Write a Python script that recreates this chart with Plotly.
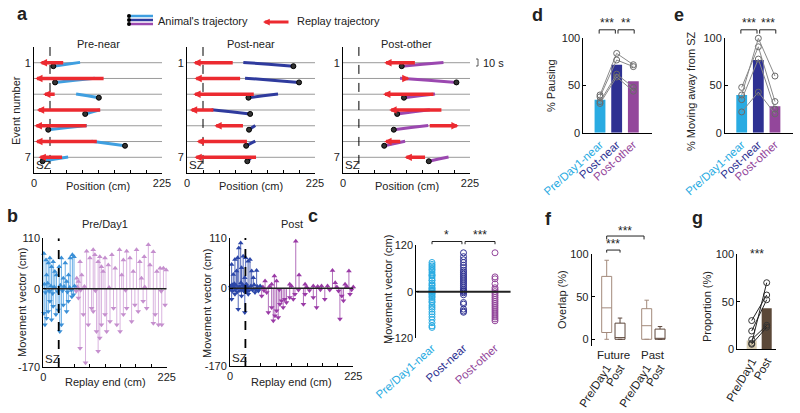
import plotly.graph_objects as go

W, H = 800, 413
FONT = "Liberation Sans, Arial, Helvetica, sans-serif"
FS = 11
FS_CAT = 11.5
RED = "#ec2a30"

# ---------------- DATA ----------------
events = [1, 2, 3, 4, 5, 6, 7]
sz_edge = 28.125
track_len = 225

# panel a (cm)
pre_near_replay_start = [54, 125, 39, 119, 95, 113, 52]
pre_near_replay_end = [10, 2, 16, 5, 1, 2, 8]
pre_near_traj_start = [81, 107, 74, 116, 93, 101, 60]
pre_near_traj_end = [34, 37, 114, 90, 25, 160, 15]

post_near_replay_start = [83, 96, 120, 49, 101, 108, 124]
post_near_replay_end = [11, 13, 11, 5, 48, 17, 13]
post_near_traj_start = [99, 102, 160, 43, 120, 120, 114]
post_near_traj_end = [187, 197, 108, 111, 109, 104, 106]

post_other_replay_start = [130, 102, 163, 177, 151, 104, 148]
post_other_replay_end = [73, 118, 71, 82, 205, 73, 109]
post_other_traj_start = [178, 101, 163, 154, 151, 110, 187]
post_other_traj_end = [104, 201, 108, 96, 90, 73, 152]
traj_time_offset = [0.22, 0.25, 0.22, 0.25, 0.25, 0.27, 0.25]

# panel b: replay end (cm) and movement vector (cm)
b_pre_near_x = [1, 5, 9, 12, 15, 18, 24, 29, 33, 40, 46, 49, 53, 56, 6, 21, 36.5, 42.5,
                1, 3, 6, 9, 12, 15, 18, 23, 27, 30, 33, 36.5, 42.5, 45.6, 52, 55,
                2, 4, 8, 11, 14, 17, 20, 26, 31, 35, 38, 44, 48, 51, 57]
b_pre_near_v = [77, 63, 56, 67, 48, 59, 30, 48, 67, 56, 30, 67, 74, 70, 30, 38, 23, 16,
                -53, -78, -64, -49, -27, -67, -38, -56, -46, -93, -78, -35, -49, -27, -17, -13,
                10, -8, 12, -5, 6, -10, 4, -6, 8, -4, 5, -7, 3, -3, 6]
b_pre_other_x = [61, 64, 67, 70, 79, 85, 91, 94, 100, 103, 106, 112.5, 118.5, 125, 131, 139,
                 146, 152, 158, 164, 170, 176, 184, 191.5, 194.5, 200.6, 207, 213, 219, 224,
                 109, 143, 179,
                 64, 67, 73, 77, 82, 88, 91, 97, 100, 103, 106, 112.5, 115.5, 121.6, 128, 134,
                 140, 146, 152, 161, 167, 173, 182, 188.5, 200.6, 204, 210, 216, 222,
                 60, 62, 68, 75, 95, 120, 150, 185, 215]
b_pre_other_v = [23, 16, 59, 30, 82, 67, 85, 74, 59, 70, 48, 67, 52, 74, 45, 85,
                 63, 82, 67, 38, 85, 59, 70, 96, 52, 81, 38, 45, 45, 41,
                 38, 30, 23,
                 -20, -129, -56, -161, -78, -42, -49, -93, -136, -107, -78, -56, -93, -71, -42, -78,
                 -93, -56, -42, -71, -35, -49, -27, -42, -75, -56, -78, -78, -35,
                 -5, 4, -3, 5, -4, 3, -3, 4, -5]
b_post_near_x = [19.5, 16, 14, 9, 24, 28.6, 33, 36.5, 3, 6, 12, 21, 39.5, 48.6, 42.6, 27,
                 27, 15, 3, 9, 21, 33.4, 45.6, 51.7,
                 1, 2, 4, 5, 7, 8, 10, 11, 13, 17, 18, 20, 22, 23, 25, 26, 29, 30, 31, 32,
                 35, 38, 41, 44, 47, 50, 53, 55]
b_post_near_v = [99, 88, 67, 63, 70, 67, 59, 63, 52, 30, 38, 45, 38, 39, 23, 23,
                 -53, -46, -24, -13, -17, -13, -9, -6,
                 5, -4, 8, -6, 3, 10, -3, 6, -8, 4, -5, 12, -3, 7, -6, 4, -4, 9, -7, 3,
                 -5, 5, -4, 8, -3, 4, -2, 5]
b_post_other_x = [57.8, 67, 70, 76, 79, 82, 85, 88, 91, 94, 97, 100, 103, 109, 115.5, 118.5,
                  134, 137, 152, 158, 173, 200.6, 204, 207, 219,
                  120, 81, 85, 64, 76, 126, 137, 152, 167, 187, 217, 192, 210, 225, 109,
                  60, 62, 72, 90, 112, 125, 140, 145, 160, 165, 178, 182, 195, 198, 213, 222]
b_post_other_v = [-17, -9, -53, -42, -71, -60, -49, -64, -35, -27, -42, -24, -31, -20, -24, -13,
                  -35, -13, -20, -42, -24, -67, -17, -27, -13,
                  103, 27, 16, 16, 9, 29, 9, 5, 5, 39, 38, 12, 9, 3, 9,
                  3, -5, 4, -3, 5, -4, 3, -5, 4, -3, 5, -4, 3, -6, 4, -3]

# panel c
c_categories = ["Pre/Day1-near", "Post-near", "Post-other"]
c_pre_near = [75, 70, 66, 62, 58, 55, 50, 45, 42, 40, 35, 30, 28, 22, 18, 15, 10, 8, 5, 2, 0,
              -3, -5, -8, -12, -15, -20, -25, -28, -35, -40, -45, -52, -58, -65, -72, -80, -88, -92]
c_post_near = [100, 90, 82, 75, 68, 62, 55, 50, 45, 40, 35, 30, 25, 20, 15, 10, 5, 2, 0,
               -3, -8, -28, -32, -45, -50, -53]
c_post_other = [100, 38, 33, 20, 10, 5, 0, -5, -10, -15, -20, -25, -30, -35, -40, -45,
                -50, -55, -60, -65, -70, -75]

# panel d (% pausing)
d_bar = [35, 72, 54.5]
d_pre_near = [40, 38, 33, 31]
d_post_near = [84, 77, 62, 59]
d_post_other = [72, 70, 48, 44]

# panel e (% moving away from SZ)
e_bar = [40, 77, 28]
e_pre_near = [48, 40, 35, 22]
e_post_near = [91, 100, 78, 43]
e_post_other = [33, 60, 25, 20]

# panel f (overlap %)
f_groups = ["Future", "Past"]
f_labels = ["Pre/Day1", "Post", "Pre/Day1", "Post"]
f_pos = [0, 1, 3, 4]
f_q1 = [8, 0, 0, 0]
f_median = [37, 2, 16, 0.5]
f_q3 = [74, 19, 36, 12]
f_low = [0, 0, 0, 0]
f_high = [93, 25, 46, 15]

# panel g (proportion %)
g_categories = ["Pre/Day1", "Post"]
g_bar = [9, 43]
g_pre = [30, 19, 10, 6, 5]
g_post = [57, 52, 25, 70, 23]

# ---------------- COLOURS ----------------
C_LB = "#29abe2"
C_DB = "#2e3192"
C_PU = "#93479b"
A_COLS = ["#3f9fe0", "#2f3b9e", "#9b48b0"]

fig = go.Figure()
layout = dict(width=W, height=H, margin=dict(l=0, r=0, t=0, b=0, pad=0, autoexpand=False),
              paper_bgcolor="white", plot_bgcolor="white", showlegend=False, hovermode=False,
              font=dict(family=FONT, size=FS, color="#222"))
shapes, annotations = [], []


def xdom(pa, va, pb, vb, lo, hi):
    k = (pb - pa) / (vb - va)
    p1, p2 = pa + (lo - va) * k, pa + (hi - va) * k
    return [min(p1, p2) / W, max(p1, p2) / W]


def ydom(pa, va, pb, vb, lo, hi):
    k = (pb - pa) / (vb - va)
    p1, p2 = pa + (lo - va) * k, pa + (hi - va) * k
    return [1 - max(p1, p2) / H, 1 - min(p1, p2) / H]


def axis(**kw):
    d = dict(showgrid=False, zeroline=False, linecolor="black", linewidth=1, automargin=False,
             tickfont=dict(size=FS, color="#222", family=FONT), ticks="", ticklen=3,
             tickcolor="black", fixedrange=True, showline=True)
    d.update(kw)
    return d


def txt(text, x, y, size=FS, angle=0, xanchor="center", yanchor="middle", color="#222", bold=False):
    if bold:
        text = "<b>" + text + "</b>"
    annotations.append(dict(text=text, x=x / W, y=1 - y / H, xref="paper", yref="paper",
                            showarrow=False, textangle=angle, xanchor=xanchor, yanchor=yanchor,
                            font=dict(size=size, color=color, family=FONT)))


def axname(i):
    return ("x", "y") if i == 1 else (f"x{i}", f"y{i}")


# ---------------- PANEL a ----------------
a_sets = [
    (pre_near_replay_start, pre_near_replay_end, pre_near_traj_start, pre_near_traj_end, "Pre-near", 34, 162),
    (post_near_replay_start, post_near_replay_end, post_near_traj_start, post_near_traj_end, "Post-near", 187, 315),
    (post_other_replay_start, post_other_replay_end, post_other_traj_start, post_other_traj_end, "Post-other", 343, 470),
]
a_ticks = [track_len * i / 8 for i in range(9)]
a_ticktext = ["0"] + [""] * 7 + ["225"]
for i, (rs, re_, ts, te, title, px0, px1) in enumerate(a_sets, start=1):
    xa, ya = axname(i)
    col = A_COLS[i - 1]
    lx, ly = [], []
    for r in events:
        lx += [0, track_len, None]
        ly += [r, r, None]
    fig.add_trace(go.Scatter(x=lx, y=ly, mode="lines", line=dict(color="#9a9a9a", width=1),
                             xaxis=xa, yaxis=ya, hoverinfo="skip"))
    fig.add_trace(go.Scatter(x=[sz_edge, sz_edge], y=[0, 8], mode="lines",
                             line=dict(color="black", width=1, dash="dash"), xaxis=xa, yaxis=ya))
    tx, ty = [], []
    for r, s, e, dt in zip(events, ts, te, traj_time_offset):
        tx += [s, (s + e) / 2, e, None]
        ty += [r - 0.02, r + dt * 0.45, r + dt, None]
    fig.add_trace(go.Scatter(x=tx, y=ty, mode="lines", line=dict(color=col, width=3, shape="spline"),
                             xaxis=xa, yaxis=ya))
    fig.add_trace(go.Scatter(x=te, y=[r + dt for r, dt in zip(events, traj_time_offset)], mode="markers",
                             marker=dict(size=5, color="#333", line=dict(color="black", width=1)),
                             xaxis=xa, yaxis=ya, cliponaxis=False))
    for r, s, e in zip(events, rs, re_):
        annotations.append(dict(x=e, y=r, ax=s, ay=r, xref=xa, yref=ya, axref=xa, ayref=ya,
                                showarrow=True, arrowhead=2, arrowsize=0.42, arrowwidth=3.5,
                                arrowcolor=RED, text=""))
    layout["xaxis" if i == 1 else f"xaxis{i}"] = axis(
        domain=xdom(px0, 0, px1, 225, 0, 225), range=[0, 225], anchor=ya,
        ticks="inside", tickvals=a_ticks, ticktext=a_ticktext)
    layout["yaxis" if i == 1 else f"yaxis{i}"] = axis(
        domain=ydom(62.7, 1, 157.3, 7, 0, 8), range=[8, 0], anchor=xa,
        tickvals=[1, 7], ticktext=["1", "7"])
    annotations.append(dict(text="SZ", x=0, y=0, xref=f"{xa} domain", yref=f"{ya} domain",
                            xanchor="left", yanchor="bottom", showarrow=False, xshift=0,
                            font=dict(size=FS + 0.5, color="#222", family=FONT)))
    txt(title, (px0 + px1) / 2, 44)
    txt("Position (cm)", (px0 + px1) / 2, 186)
txt("Event number", 16, 111, angle=-90)

# legend of panel a
for k, (c, yy) in enumerate(zip(A_COLS, [16, 20, 24])):
    shapes.append(dict(type="line", xref="paper", yref="paper", x0=129 / W, x1=153 / W,
                       y0=1 - yy / H, y1=1 - yy / H, line=dict(color=c, width=2.5)))
    shapes.append(dict(type="circle", xref="paper", yref="paper", x0=127 / W, x1=131 / W,
                       y0=1 - (yy + 2) / H, y1=1 - (yy - 2) / H, fillcolor="black", line=dict(width=0)))
txt("Animal's trajectory", 156, 21, xanchor="left")
annotations.append(dict(x=263 / W, y=1 - 22 / H, xref="paper", yref="paper", ax=27, ay=0,
                        showarrow=True, arrowhead=2, arrowsize=0.45, arrowwidth=3, arrowcolor=RED, text=""))
txt("Replay trajectory", 295, 21, xanchor="left")
# 10 s scale bar
for seg in [(476, 59, 478, 59), (478, 59, 478, 66), (476, 66, 478, 66)]:
    shapes.append(dict(type="line", xref="paper", yref="paper", x0=seg[0] / W, x1=seg[2] / W,
                       y0=1 - seg[1] / H, y1=1 - seg[3] / H, line=dict(color="#333", width=0.8)))
txt("10 s", 481, 63, xanchor="left")

# ---------------- PANEL b ----------------
b_sets = [
    (4, b_pre_near_x, b_pre_near_v, b_pre_other_x, b_pre_other_v,
     ("#3a8fd6", "#6aaee6"), ("#c58fce", "#d9b3df"), (43.3, 166.7), (238.3, 367), "Pre/Day1", 22),
    (5, b_post_near_x, b_post_near_v, b_post_other_x, b_post_other_v,
     ("#2b46a8", "#5468b8"), ("#9a3aa6", "#b26fbb"), (230, 353.3), (238, 366), "Post", 207),
]
for idx, nx, nv, ox, ov, ncol, ocol, (px0, px1), (py0, py1), title, ytx in b_sets:
    xa, ya = axname(idx)
    for xs, vs, (cm, cs) in [(ox, ov, ocol), (nx, nv, ncol)]:
        sx, sy = [], []
        for x, v in zip(xs, vs):
            sx += [x, x, None]
            sy += [0, v, None]
        fig.add_trace(go.Scatter(x=sx, y=sy, mode="lines", line=dict(color=cs, width=1),
                                 xaxis=xa, yaxis=ya))
        fig.add_trace(go.Scatter(x=xs, y=vs, mode="markers",
                                 marker=dict(size=5, color=cm,
                                             symbol=["triangle-up" if v >= 0 else "triangle-down" for v in vs]),
                                 xaxis=xa, yaxis=ya, cliponaxis=False))
    fig.add_trace(go.Scatter(x=[0, track_len], y=[0, 0], mode="lines", line=dict(color="#222", width=1.5),
                             xaxis=xa, yaxis=ya))
    fig.add_trace(go.Scatter(x=[sz_edge, sz_edge], y=[-170, 110], mode="lines",
                             line=dict(color="black", width=1.8, dash="dash"), xaxis=xa, yaxis=ya))
    layout[f"xaxis{idx}"] = axis(domain=xdom(px0, 0, px1, 225, 0, 225), range=[0, 225], anchor=ya,
                                 ticks="inside", tickvals=a_ticks, ticktext=a_ticktext)
    layout[f"yaxis{idx}"] = axis(domain=ydom(py0, 110, py1, -170, -170, 110), range=[-170, 110], anchor=xa,
                                 ticks="inside", tickvals=[-170, 0, 110], ticktext=["-170", "0", "110"])
    annotations.append(dict(text="SZ", x=0, y=0, xref=f"{xa} domain", yref=f"{ya} domain",
                            xanchor="left", yanchor="bottom", showarrow=False,
                            font=dict(size=FS + 0.5, color="#222", family=FONT)))
    txt(title, (px0 + px1) / 2, 224)
    txt("Replay end (cm)", (px0 + px1) / 2, 382)
    txt("Movement vector (cm)", ytx, 303, angle=-90)


def dfrac(v, r):
    return (v - r[0]) / (r[1] - r[0])


def bracket(i, xr, yr, x0, x1, y, drop, stars, star_y, size=12):
    xa, ya = axname(i)
    fx0, fx1 = dfrac(x0, xr), dfrac(x1, xr)
    fy, fyd, fs = dfrac(y, yr), dfrac(y - drop, yr), dfrac(star_y, yr)
    for a, b, c, d in [(fx0, fyd, fx0, fy), (fx0, fy, fx1, fy), (fx1, fy, fx1, fyd)]:
        shapes.append(dict(type="line", xref=f"{xa} domain", yref=f"{ya} domain",
                           x0=a, y0=b, x1=c, y1=d, line=dict(color="#222", width=1)))
    annotations.append(dict(text=stars, x=(fx0 + fx1) / 2, y=fs, xref=f"{xa} domain", yref=f"{ya} domain",
                            showarrow=False, xanchor="center", yanchor="middle",
                            font=dict(size=size, color="#222", family=FONT)))


def colored(labels, cols):
    return [f'<span style="color:{c}">{t}</span>' for t, c in zip(labels, cols)]


# ---------------- PANEL c ----------------
xr6, yr6 = [-0.5, 2.5], [-120, 120]
for k, (vals, col) in enumerate([(c_pre_near, C_LB), (c_post_near, C_DB), (c_post_other, C_PU)]):
    fig.add_trace(go.Scatter(x=[k] * len(vals), y=vals, mode="markers",
                             marker=dict(symbol="circle-open", size=6, color=col, line=dict(width=1)),
                             xaxis="x6", yaxis="y6", cliponaxis=False))
fig.add_trace(go.Scatter(x=xr6, y=[0, 0], mode="lines", line=dict(color="#222", width=2),
                         xaxis="x6", yaxis="y6"))
layout["xaxis6"] = axis(domain=xdom(432, 0, 463.5, 1, *xr6), range=xr6, anchor="y6", showline=False,
                        tickvals=[0, 1, 2], ticktext=colored(c_categories, [C_LB, C_DB, C_PU]), tickangle=-42,
                        tickfont=dict(size=FS_CAT, family=FONT))
layout["yaxis6"] = axis(domain=ydom(245, 120, 338.3, -120, *yr6), range=yr6, anchor="x6",
                        ticks="inside", tickvals=[-120, 0, 120])
bracket(6, xr6, yr6, 0, 0.95, 129, 7, "*", 146)
bracket(6, xr6, yr6, 1.05, 2.0, 129, 7, "***", 146)
txt("Movement vector (cm)", 388, 290, angle=-90)

# ---------------- PANELS d, e ----------------
for i, bars, groups, (px0c, px1c), ylab, ylx, yly, stars in [
    (7, d_bar, (d_pre_near, d_post_near, d_post_other), (600, 616.67), "% Pausing", 551, 86, ("***", "**")),
    (8, e_bar, (e_pre_near, e_post_near, e_post_other), (741.7, 758.33), "% Moving away from SZ", 691, 92,
     ("***", "***")),
]:
    xa, ya = axname(i)
    xr, yr = [-1, 3.1], [0, 100]
    fig.add_trace(go.Bar(x=[0, 1, 2], y=bars, width=0.65, marker=dict(color=[C_LB, C_DB, C_PU], line=dict(width=0)),
                         xaxis=xa, yaxis=ya))
    for subj in zip(*groups):
        fig.add_trace(go.Scatter(x=[0, 1, 2], y=list(subj), mode="lines+markers",
                                 line=dict(color="#8a8a8a", width=1),
                                 marker=dict(symbol="circle-open", size=6, color="#6a6a6a", line=dict(width=1)),
                                 xaxis=xa, yaxis=ya, cliponaxis=False))
    layout[f"xaxis{i}"] = axis(domain=xdom(px0c, 0, px1c, 1, *xr), range=xr, anchor=ya,
                               tickvals=[0, 1, 2], ticktext=colored(c_categories, [C_LB, C_DB, C_PU]),
                               tickangle=-42, tickfont=dict(size=FS_CAT, family=FONT))
    layout[f"yaxis{i}"] = axis(domain=ydom(132.7, 0, 38.3, 100, *yr), range=yr, anchor=xa,
                               ticks="inside", tickvals=[0, 50, 100])
    bracket(i, xr, yr, -0.05, 0.92, 109, 4, stars[0], 116)
    bracket(i, xr, yr, 1.08, 2.05, 109, 4, stars[1], 116)
    txt(ylab, ylx, yly, angle=-90)

# ---------------- PANEL f ----------------
xr9, yr9 = [-1.125, 5], [-8, 100]
f_cols = ["#a38a7c", "#5e483c", "#a38a7c", "#5e483c"]
for p, q1, md, q3, lo, hi, c in zip(f_pos, f_q1, f_median, f_q3, f_low, f_high, f_cols):
    fig.add_trace(go.Box(x=[p], q1=[q1], median=[md], q3=[q3], lowerfence=[lo], upperfence=[hi],
                         width=0.75, whiskerwidth=0.45, line=dict(color=c, width=1),
                         fillcolor="rgba(0,0,0,0)", boxpoints=False, xaxis="x9", yaxis="y9"))
layout["xaxis9"] = axis(domain=xdom(606.7, 0, 646.7, 3, *xr9), range=xr9, anchor="y9", showline=False,
                        tickvals=f_pos, ticktext=f_labels, tickangle=-57, ticklabelstandoff=12,
                        tickfont=dict(size=FS_CAT, family=FONT))
layout["yaxis9"] = axis(domain=ydom(339.3, 0, 254.3, 100, *yr9), range=yr9, anchor="x9",
                        ticks="inside", tickvals=[0, 50, 100])
bracket(9, xr9, yr9, 0, 1, 105, 3, "***", 112)
bracket(9, xr9, yr9, 0, 2.8, 121.5, 4, "***", 127)
for g, xc in zip(f_groups, [0.5, 3.5]):
    annotations.append(dict(text=g, x=dfrac(xc, xr9), y=dfrac(-8, yr9), xref="x9 domain", yref="y9 domain",
                            showarrow=False, xanchor="center", yanchor="top", yshift=-1,
                            font=dict(size=FS_CAT, color="#222", family=FONT)))
txt("Overlap (%)", 562, 300, angle=-90)

# ---------------- PANEL g ----------------
xr10, yr10 = [-0.96, 1.6], [0, 100]
fig.add_trace(go.Bar(x=[0, 1], y=g_bar, width=0.67, marker=dict(color=["#d8ccb0", "#5b4838"], line=dict(width=0)),
                     xaxis="x10", yaxis="y10"))
for a, b in zip(g_pre, g_post):
    fig.add_trace(go.Scatter(x=[0, 1], y=[a, b], mode="lines+markers", line=dict(color="#222", width=1),
                             marker=dict(symbol="circle-open", size=6, color="#333", line=dict(width=1)),
                             xaxis="x10", yaxis="y10", cliponaxis=False))
layout["xaxis10"] = axis(domain=xdom(751.7, 0, 766.7, 1, *xr10), range=xr10, anchor="y10",
                         tickvals=[0, 1], ticktext=g_categories, tickangle=-60,
                         tickfont=dict(size=FS_CAT, family=FONT))
layout["yaxis10"] = axis(domain=ydom(349, 0, 254.3, 100, *yr10), range=yr10, anchor="x10",
                         ticks="inside", tickvals=[0, 50, 100])
annotations.append(dict(text="***", x=dfrac(0.37, xr10), y=1.0, xref="x10 domain", yref="y10 domain",
                        showarrow=False, xanchor="center", yanchor="middle",
                        font=dict(size=12, color="#222", family=FONT)))
txt("Proportion (%)", 707, 307, angle=-90)

# panel letters
for t, x, y in [("a", 22, 14), ("b", 12, 216), ("c", 313, 216), ("d", 537, 15), ("e", 679, 15),
                ("f", 548, 219), ("g", 697, 218)]:
    txt(t, x, y, size=18, bold=True)

layout["shapes"] = shapes
layout["annotations"] = annotations
fig.update_layout(**layout)
fig.write_html("out.html", config={"displayModeBar": False, "staticPlot": True},
               post_script="document.body.style.margin='0px';")
